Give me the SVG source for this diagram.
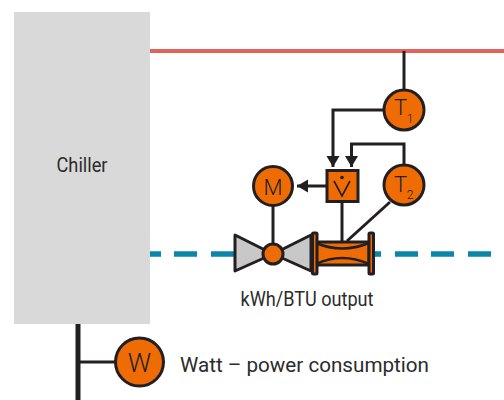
<svg xmlns="http://www.w3.org/2000/svg" width="504" height="400" viewBox="0 0 504 400">
<defs>
<marker id="ah" markerUnits="userSpaceOnUse" markerWidth="14" markerHeight="14" refX="11" refY="6.500" orient="auto"><path d="M0,0L11,6.500L0,13Z" fill="#231f20"/></marker>
</defs>
<style>
.t{font-family:Roboto,"Liberation Sans",sans-serif;fill:#231f20;font-weight:300}
.b{font-family:Roboto,"Liberation Sans",sans-serif;fill:#2b2b2b;font-weight:400}
.l{fill:none;stroke:#231f20;stroke-width:3}
.o{fill:#ef6c05;stroke:#231f20;stroke-width:3}
</style>
<rect id="chiller-box" x="14" y="12" width="136" height="312" fill="#d9d9d9"/>
<g id="pipes">
<path d="M150,51H504" fill="none" stroke="#e0645c" stroke-width="4"/>
<path d="M150,254H161M174,254H197M211,254H236M370,254H381M395,254H418M431,254H454M468,254H491" fill="none" stroke="#0a86a8" stroke-width="5.500"/>
<path d="M78,324V400" fill="none" stroke="#231f20" stroke-width="5"/>
</g>
<g id="connectors">
<path class="l" d="M404,51V90"/>
<path class="l" d="M384,110H333V167" marker-end="url(#ah)"/>
<path class="l" d="M404,165V144H351.500V167" marker-end="url(#ah)"/>
<path class="l" d="M326,186H297" marker-end="url(#ah)"/>
<path class="l" d="M273,205V254"/>
<path class="l" d="M342,202V242"/>
<path class="l" d="M390,202L347,241"/>
<path class="l" d="M78,362H116"/>
</g>
<g id="chiller"><text class="b" x="82" y="172" font-size="20" text-anchor="middle" textLength="51" lengthAdjust="spacingAndGlyphs">Chiller</text></g>
<g id="t1"><circle class="o" cx="404" cy="110" r="20"/><text class="t" x="400.500" y="115" font-size="22" text-anchor="middle">T</text><text class="t" x="410" y="123" font-size="12" text-anchor="middle">1</text></g>
<g id="t2"><circle class="o" cx="404" cy="185" r="20"/><text class="t" x="400.500" y="192" font-size="22" text-anchor="middle">T</text><text class="t" x="410" y="199" font-size="12" text-anchor="middle">2</text></g>
<g id="m"><circle class="o" cx="273" cy="186" r="19.500"/><text class="t" x="273" y="195" font-size="22" text-anchor="middle">M</text></g>
<g id="actuator"><rect class="o" x="327" y="170.500" width="31" height="31" stroke-width="3.500"/><circle cx="342" cy="177.500" r="1.800" fill="#231f20"/><path d="M334,181L342,196L350,181" fill="none" stroke="#231f20" stroke-width="1.600"/></g>
<g id="valve">
<path d="M235,235L273,254L235,271Z M311,235L273,254L311,271Z" fill="#c8c8c8" stroke="#231f20" stroke-width="3" stroke-linejoin="round"/>
<circle class="o" cx="273" cy="254" r="10"/>
</g>
<g id="flowmeter">
<rect class="o" x="316" y="242" width="53" height="23"/>
<path d="M316,243Q342,254 369,243M316,264Q342,252 369,264" fill="none" stroke="#231f20" stroke-width="2.500"/>
<rect class="o" x="312.500" y="233" width="4.500" height="41" rx="1"/>
<rect class="o" x="369" y="233" width="4.500" height="41" rx="1"/>
</g>
<g id="output-label"><text class="b" x="307" y="306" font-size="20" text-anchor="middle" textLength="133" lengthAdjust="spacingAndGlyphs">kWh/BTU output</text></g>
<g id="w"><circle class="o" cx="139.500" cy="362" r="24"/><text class="t" x="139.500" y="372" font-size="26" text-anchor="middle">W</text></g>
<g id="watt-label"><text class="b" x="180" y="372" font-size="21" textLength="249" lengthAdjust="spacingAndGlyphs">Watt – power consumption</text></g>
</svg>
